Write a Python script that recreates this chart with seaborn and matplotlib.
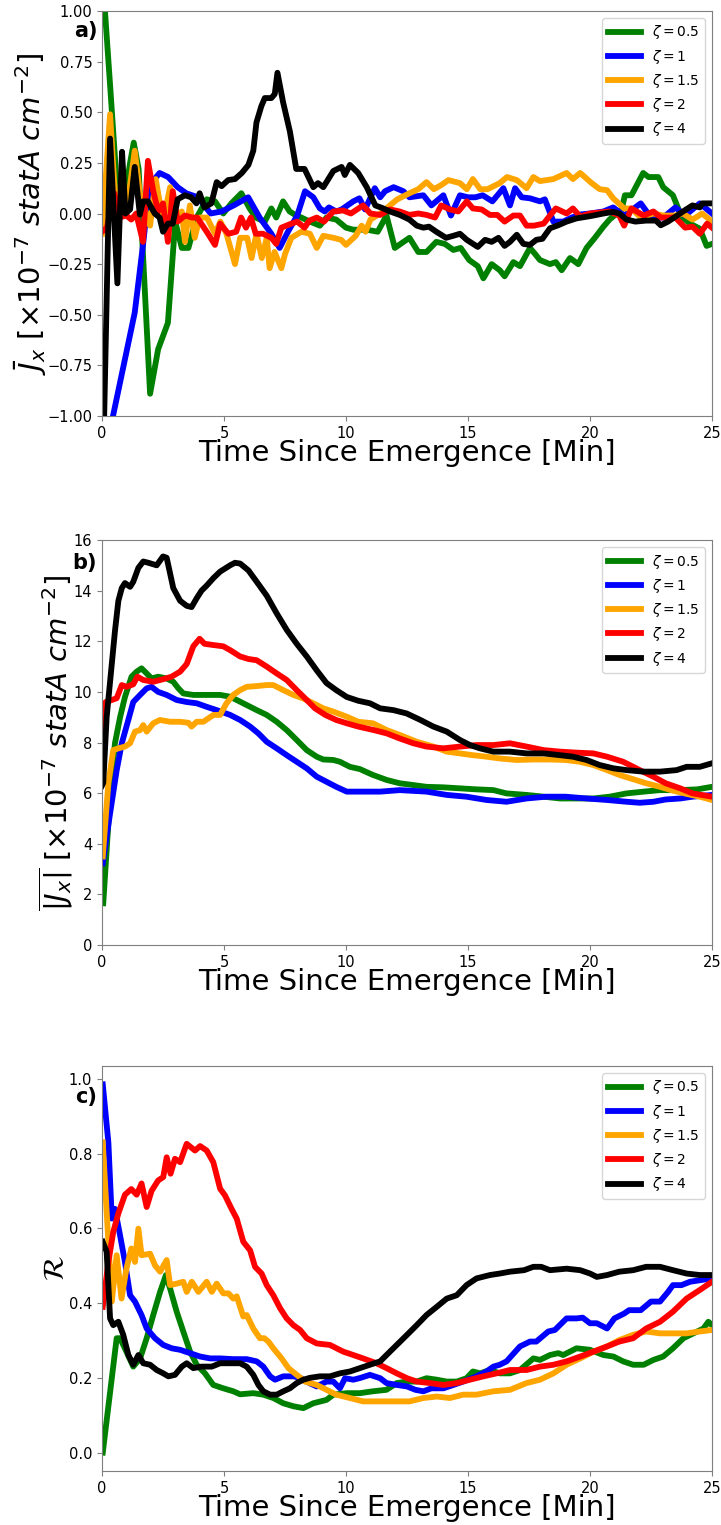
import matplotlib
matplotlib.use("Agg")
import matplotlib.pyplot as plt
import seaborn as sns
import numpy as np

# ---------------- Panel a : mean J_x ----------------
a_t_z05 = [0.0, 0.12, 0.35, 0.6, 0.9, 1.15, 1.3, 1.5, 1.97, 2.3, 2.7, 3.0, 3.27, 3.54, 3.88, 4.29, 4.63, 4.97, 5.3, 5.71, 6.05, 6.3, 6.67, 6.94, 7.14, 7.42, 7.69, 7.96, 8.17, 8.52, 8.93, 9.2, 9.6, 10.0, 10.3, 10.85, 11.3, 11.66, 12.0, 12.6, 12.96, 13.3, 13.7, 14.05, 14.4, 14.7, 15.05, 15.4, 15.63, 15.97, 16.3, 16.5, 16.86, 17.13, 17.54, 17.75, 17.95, 18.36, 18.6, 18.84, 19.18, 19.52, 19.86, 20.2, 20.55, 20.8, 21.3, 21.43, 21.7, 22.18, 22.4, 22.8, 23.0, 23.4, 23.75, 24.1, 24.5, 24.78, 25.0]
a_v_z05 = [1.4, 1.0, 0.6, 0.15, 0.05, 0.25, 0.35, 0.22, -0.89, -0.67, -0.54, -0.04, -0.17, -0.17, -0.02, 0.07, 0.06, 0.0, 0.05, 0.10, 0.025, -0.02, -0.04, 0.025, -0.02, 0.06, 0.01, -0.01, -0.02, -0.04, -0.06, -0.02, -0.03, -0.07, -0.08, -0.08, -0.09, -0.01, -0.17, -0.12, -0.19, -0.19, -0.14, -0.15, -0.18, -0.17, -0.23, -0.26, -0.32, -0.25, -0.28, -0.31, -0.24, -0.26, -0.17, -0.20, -0.23, -0.25, -0.24, -0.28, -0.22, -0.25, -0.17, -0.12, -0.065, -0.03, 0.02, 0.09, 0.09, 0.20, 0.18, 0.18, 0.13, 0.09, -0.015, -0.05, -0.075, -0.16, -0.15]

a_t_z1 = [0.0, 0.45, 1.34, 1.68, 1.95, 2.36, 2.71, 3.1, 3.45, 3.93, 4.45, 4.9, 5.4, 5.99, 6.46, 6.94, 7.28, 7.62, 8.0, 8.32, 8.66, 8.93, 9.13, 9.3, 9.6, 9.82, 10.3, 10.55, 10.78, 11.18, 11.4, 11.6, 11.95, 12.35, 12.6, 13.17, 13.5, 13.99, 14.3, 14.67, 15.0, 15.3, 15.6, 16.0, 16.45, 16.72, 16.93, 17.2, 17.54, 17.95, 18.15, 18.5, 18.9, 19.25, 19.6, 20.0, 20.55, 20.95, 21.4, 22.08, 22.5, 23.0, 23.5, 23.9, 24.5, 25.0]
a_v_z1 = [-1.3, -1.0, -0.49, -0.155, 0.14, 0.20, 0.18, 0.13, 0.10, 0.08, 0.0, 0.01, 0.04, 0.08, -0.02, -0.10, -0.17, -0.09, -0.01, 0.11, 0.08, 0.025, 0.01, 0.03, 0.01, 0.02, 0.06, 0.075, 0.02, 0.125, 0.08, 0.11, 0.13, 0.11, 0.08, 0.09, 0.04, 0.09, -0.01, 0.09, 0.08, 0.08, 0.09, 0.06, 0.125, 0.04, 0.125, 0.08, 0.075, 0.06, 0.07, -0.04, -0.04, -0.02, -0.005, 0.0, 0.01, 0.03, -0.01, 0.05, -0.02, -0.02, 0.03, -0.01, 0.05, 0.0]

a_t_z15 = [0.0, 0.33, 0.5, 0.65, 0.85, 1.05, 1.34, 1.55, 1.97, 2.2, 2.5, 2.79, 3.0, 3.27, 3.4, 3.6, 3.8, 4.0, 4.3, 4.63, 4.85, 5.1, 5.45, 5.66, 5.95, 6.13, 6.33, 6.55, 6.75, 6.87, 7.07, 7.35, 7.5, 7.76, 8.17, 8.52, 8.8, 9.07, 9.48, 9.8, 10.0, 10.4, 10.64, 10.8, 11.0, 11.4, 11.8, 12.1, 12.6, 12.96, 13.3, 13.6, 13.9, 14.2, 14.67, 14.95, 15.2, 15.5, 15.8, 16.3, 16.6, 17.0, 17.4, 17.68, 17.95, 18.5, 19.04, 19.3, 19.6, 20.07, 20.4, 20.7, 20.95, 21.4, 21.7, 22.08, 22.6, 23.0, 23.5, 23.8, 24.2, 24.6, 25.0]
a_v_z15 = [-0.1, 0.49, 0.15, 0.0, 0.1, 0.05, 0.31, 0.1, -0.06, 0.17, -0.04, 0.13, -0.02, 0.01, -0.14, 0.04, -0.12, -0.02, -0.02, -0.10, -0.04, -0.10, -0.25, -0.12, -0.12, -0.22, -0.10, -0.22, -0.12, -0.27, -0.19, -0.27, -0.20, -0.12, -0.09, -0.10, -0.17, -0.11, -0.12, -0.13, -0.155, -0.11, -0.06, -0.09, -0.03, 0.0, 0.04, 0.07, 0.10, 0.12, 0.155, 0.12, 0.14, 0.165, 0.15, 0.12, 0.17, 0.12, 0.12, 0.15, 0.18, 0.165, 0.125, 0.18, 0.16, 0.17, 0.20, 0.17, 0.20, 0.15, 0.12, 0.115, 0.075, 0.025, 0.025, -0.02, 0.0, -0.01, -0.01, 0.0, -0.03, 0.0, -0.04]

a_t_z2 = [0.0, 0.2, 0.5, 0.7, 1.0, 1.2, 1.4, 1.68, 1.88, 2.1, 2.3, 2.5, 2.7, 2.9, 3.1, 3.4, 3.7, 3.9, 4.29, 4.63, 4.84, 5.18, 5.5, 5.7, 5.9, 6.1, 6.3, 6.6, 6.94, 7.14, 7.35, 7.76, 8.0, 8.3, 8.5, 8.8, 9.1, 9.48, 9.88, 10.2, 10.7, 11.0, 11.4, 11.8, 12.2, 12.6, 12.96, 13.3, 13.65, 13.9, 14.26, 14.6, 14.95, 15.2, 15.56, 15.9, 16.2, 16.5, 16.86, 17.13, 17.4, 17.7, 18.1, 18.36, 18.6, 19.04, 19.3, 19.6, 20.0, 20.4, 20.8, 21.2, 21.4, 21.7, 22.2, 22.6, 22.9, 23.2, 23.5, 23.9, 24.2, 24.5, 24.8, 25.0]
a_v_z2 = [-0.09, -0.07, 0.1, -0.02, -0.01, -0.03, 0.0, -0.14, 0.26, 0.11, 0.01, 0.05, -0.14, 0.11, -0.04, -0.01, -0.02, -0.02, -0.09, -0.155, -0.05, -0.10, -0.09, -0.02, -0.07, -0.02, -0.10, -0.10, -0.12, -0.15, -0.07, -0.05, -0.04, -0.07, -0.035, -0.02, -0.04, 0.01, 0.015, 0.0, 0.04, 0.0, -0.007, 0.02, 0.01, -0.007, 0.0, -0.007, -0.02, 0.04, 0.02, 0.01, 0.06, 0.025, 0.02, -0.007, -0.007, -0.04, -0.01, -0.01, -0.06, -0.06, -0.05, -0.01, 0.025, 0.0, 0.025, -0.015, 0.0, 0.005, 0.01, -0.01, -0.06, 0.025, -0.01, 0.01, -0.02, -0.02, -0.02, -0.07, -0.065, -0.10, -0.05, -0.07]

a_t_z4 = [0.0, 0.33, 0.63, 0.82, 0.96, 1.15, 1.34, 1.55, 1.68, 1.88, 2.16, 2.36, 2.5, 2.7, 2.9, 3.1, 3.4, 3.65, 3.87, 4.0, 4.2, 4.48, 4.7, 4.9, 5.17, 5.45, 5.73, 6.0, 6.2, 6.33, 6.53, 6.67, 6.94, 7.08, 7.19, 7.42, 7.7, 7.96, 8.3, 8.66, 8.85, 9.07, 9.48, 9.82, 9.95, 10.16, 10.5, 10.85, 11.2, 11.53, 11.8, 12.2, 12.6, 12.9, 13.17, 13.4, 13.7, 14.1, 14.4, 14.67, 14.95, 15.4, 15.7, 15.97, 16.25, 16.5, 16.72, 17.0, 17.27, 17.54, 17.8, 18.05, 18.36, 18.7, 19.04, 19.45, 19.86, 20.14, 20.55, 20.95, 21.2, 21.5, 21.86, 22.3, 22.7, 22.9, 23.2, 23.5, 23.9, 24.2, 24.5, 24.6, 25.0]
a_v_z4 = [-1.5, 0.37, -0.345, 0.305, 0.0, 0.02, 0.23, -0.005, 0.06, 0.06, 0.0, -0.02, -0.09, -0.05, -0.05, 0.07, 0.09, 0.08, 0.05, 0.10, 0.03, 0.05, 0.155, 0.135, 0.165, 0.17, 0.20, 0.24, 0.31, 0.45, 0.53, 0.57, 0.57, 0.59, 0.695, 0.55, 0.405, 0.22, 0.22, 0.13, 0.15, 0.13, 0.21, 0.23, 0.19, 0.24, 0.20, 0.13, 0.04, 0.025, 0.01, -0.007, -0.03, -0.06, -0.07, -0.065, -0.09, -0.12, -0.11, -0.10, -0.13, -0.165, -0.13, -0.14, -0.12, -0.16, -0.14, -0.105, -0.15, -0.155, -0.13, -0.125, -0.073, -0.058, -0.04, -0.024, -0.016, -0.01, 0.0, 0.008, 0.0, -0.03, -0.04, -0.035, -0.035, -0.058, -0.04, -0.016, 0.017, 0.04, 0.03, 0.05, 0.05]

# ---------------- Panel b : mean |J_x| ----------------
b_t_z05 = [0.05, 0.33, 0.53, 0.74, 0.94, 1.21, 1.42, 1.62, 1.83, 2.03, 2.3, 2.65, 2.92, 3.13, 3.33, 3.74, 4.29, 4.84, 5.25, 5.52, 5.93, 6.34, 6.75, 7.16, 7.57, 7.98, 8.39, 8.8, 9.07, 9.48, 9.75, 10.16, 10.57, 11.1, 11.67, 12.2, 12.76, 13.3, 13.99, 14.67, 15.35, 16.04, 16.58, 17.4, 18.1, 18.77, 19.3, 20.14, 20.8, 21.5, 22.2, 22.87, 23.7, 24.4, 25.0]
b_v_z05 = [1.65, 5.86, 7.97, 9.0, 9.8, 10.6, 10.8, 10.93, 10.73, 10.53, 10.6, 10.53, 10.4, 10.14, 9.94, 9.88, 9.88, 9.88, 9.81, 9.68, 9.48, 9.28, 9.09, 8.82, 8.49, 8.1, 7.7, 7.44, 7.33, 7.31, 7.24, 7.04, 6.95, 6.72, 6.52, 6.39, 6.32, 6.25, 6.23, 6.19, 6.15, 6.12, 5.99, 5.93, 5.86, 5.79, 5.79, 5.79, 5.86, 5.99, 6.06, 6.12, 6.12, 6.15, 6.25]

b_t_z1 = [0.03, 0.33, 0.6, 0.81, 1.08, 1.28, 1.56, 1.83, 2.03, 2.3, 2.65, 3.06, 3.47, 3.88, 4.29, 4.7, 5.25, 5.66, 6.07, 6.41, 6.75, 7.16, 7.57, 7.98, 8.39, 8.8, 9.2, 9.6, 10.03, 10.5, 11.4, 12.2, 13.3, 14.13, 14.94, 15.76, 16.58, 17.4, 18.2, 19.0, 19.86, 20.7, 21.5, 22.04, 22.6, 23.1, 23.7, 24.2, 25.0]
b_v_z1 = [3.23, 5.2, 6.9, 7.97, 8.9, 9.6, 9.88, 10.14, 10.2, 10.0, 9.88, 9.68, 9.6, 9.55, 9.41, 9.28, 9.09, 8.89, 8.63, 8.36, 8.03, 7.77, 7.5, 7.24, 6.98, 6.65, 6.45, 6.25, 6.06, 6.06, 6.06, 6.12, 6.06, 5.93, 5.86, 5.73, 5.66, 5.79, 5.86, 5.86, 5.79, 5.73, 5.66, 5.62, 5.66, 5.75, 5.79, 5.86, 5.93]

b_t_z15 = [0.03, 0.26, 0.46, 0.67, 0.94, 1.15, 1.35, 1.56, 1.69, 1.83, 2.1, 2.37, 2.79, 3.2, 3.54, 3.67, 3.88, 4.15, 4.57, 4.84, 5.1, 5.38, 5.66, 5.93, 6.34, 6.75, 7.02, 7.43, 7.84, 8.25, 8.66, 9.07, 9.48, 10.03, 10.5, 11.1, 11.67, 12.2, 12.9, 13.58, 14.13, 14.67, 15.2, 15.76, 16.3, 16.99, 17.67, 18.36, 19.0, 19.58, 20.14, 20.7, 21.2, 21.77, 22.3, 22.87, 23.4, 23.96, 24.5, 25.0]
b_v_z15 = [3.5, 6.4, 7.7, 7.77, 7.84, 7.97, 8.43, 8.49, 8.69, 8.43, 8.76, 8.89, 8.82, 8.82, 8.78, 8.63, 8.82, 8.82, 9.09, 9.09, 9.55, 9.88, 10.07, 10.2, 10.23, 10.27, 10.27, 10.07, 9.88, 9.74, 9.55, 9.35, 9.22, 9.02, 8.82, 8.76, 8.49, 8.3, 8.03, 7.84, 7.64, 7.57, 7.5, 7.44, 7.37, 7.31, 7.33, 7.33, 7.31, 7.24, 7.11, 6.91, 6.72, 6.55, 6.39, 6.25, 6.1, 5.97, 5.86, 5.73]

b_t_z2 = [0.0, 0.15, 0.4, 0.6, 0.81, 1.0, 1.28, 1.45, 1.69, 2.1, 2.5, 2.85, 3.2, 3.47, 3.74, 4.0, 4.2, 4.57, 4.97, 5.25, 5.66, 6.0, 6.34, 6.75, 7.16, 7.57, 7.98, 8.39, 8.73, 9.15, 9.6, 10.03, 10.5, 11.1, 11.67, 12.2, 12.76, 13.3, 13.99, 14.67, 15.35, 16.04, 16.72, 17.4, 18.1, 18.77, 19.45, 20.14, 20.7, 21.36, 22.04, 22.6, 23.1, 23.7, 24.2, 25.0]
b_v_z2 = [8.5, 9.6, 9.68, 9.75, 10.27, 10.2, 10.3, 10.6, 10.47, 10.4, 10.5, 10.6, 10.8, 11.1, 11.8, 12.1, 11.9, 11.85, 11.8, 11.65, 11.4, 11.3, 11.25, 11.0, 10.73, 10.47, 10.07, 9.68, 9.35, 9.09, 8.89, 8.76, 8.63, 8.5, 8.36, 8.16, 7.97, 7.84, 7.77, 7.84, 7.9, 7.9, 7.97, 7.84, 7.7, 7.64, 7.6, 7.57, 7.44, 7.24, 6.91, 6.65, 6.39, 6.19, 5.99, 5.86]

b_t_z4 = [0.0, 0.05, 0.19, 0.53, 0.67, 0.81, 0.94, 1.15, 1.28, 1.49, 1.69, 1.9, 2.24, 2.5, 2.65, 2.92, 3.2, 3.47, 3.67, 3.88, 4.08, 4.29, 4.57, 4.84, 5.25, 5.45, 5.66, 6.0, 6.34, 6.75, 7.16, 7.57, 7.98, 8.39, 8.8, 9.2, 9.6, 10.03, 10.5, 10.98, 11.4, 11.94, 12.48, 13.03, 13.58, 14.13, 14.67, 15.08, 15.49, 16.04, 16.72, 17.4, 18.1, 18.77, 19.3, 19.86, 20.4, 20.96, 21.5, 22.2, 22.87, 23.55, 23.96, 24.5, 25.0]
b_v_z4 = [6.3, 6.4, 9.0, 12.4, 13.6, 14.1, 14.3, 14.15, 14.35, 14.9, 15.15, 15.1, 15.0, 15.35, 15.3, 14.1, 13.6, 13.4, 13.35, 13.7, 14.0, 14.2, 14.5, 14.75, 15.0, 15.1, 15.07, 14.8, 14.35, 13.8, 13.1, 12.45, 11.9, 11.4, 10.85, 10.35, 10.07, 9.8, 9.65, 9.55, 9.35, 9.28, 9.15, 8.9, 8.63, 8.43, 8.1, 7.9, 7.77, 7.64, 7.64, 7.57, 7.57, 7.5, 7.44, 7.31, 7.11, 6.98, 6.91, 6.85, 6.85, 6.91, 7.04, 7.04, 7.18]

# ---------------- Panel c : R ----------------
c_t_z05 = [0.03, 0.6, 0.74, 1.0, 1.28, 1.56, 1.83, 2.1, 2.38, 2.62, 2.79, 3.06, 3.33, 3.61, 3.88, 4.22, 4.56, 4.97, 5.38, 5.66, 6.2, 6.61, 7.02, 7.43, 7.84, 8.25, 8.66, 9.2, 9.48, 10.03, 10.57, 11.1, 11.66, 12.08, 12.5, 12.9, 13.3, 13.72, 14.13, 14.54, 14.94, 15.2, 15.5, 15.9, 16.3, 16.72, 17.13, 17.68, 17.95, 18.36, 18.7, 18.9, 19.45, 20.0, 20.55, 20.96, 21.36, 21.77, 22.2, 22.6, 23.0, 23.4, 23.83, 24.24, 24.65, 24.85, 25.0]
c_v_z05 = [0.0, 0.306, 0.306, 0.27, 0.23, 0.252, 0.306, 0.368, 0.43, 0.475, 0.439, 0.377, 0.324, 0.27, 0.235, 0.212, 0.181, 0.172, 0.164, 0.156, 0.159, 0.155, 0.146, 0.132, 0.124, 0.119, 0.132, 0.141, 0.155, 0.159, 0.159, 0.164, 0.168, 0.186, 0.19, 0.19, 0.199, 0.195, 0.19, 0.19, 0.199, 0.217, 0.212, 0.221, 0.212, 0.212, 0.221, 0.252, 0.248, 0.261, 0.266, 0.261, 0.279, 0.275, 0.261, 0.257, 0.244, 0.235, 0.235, 0.248, 0.257, 0.279, 0.306, 0.319, 0.332, 0.35, 0.341]

c_t_z1 = [0.03, 0.26, 0.4, 0.53, 0.74, 0.94, 1.15, 1.35, 1.62, 1.83, 2.17, 2.51, 2.86, 3.2, 3.61, 4.02, 4.43, 4.84, 5.38, 5.93, 6.34, 6.61, 6.89, 7.09, 7.43, 7.84, 8.12, 8.53, 8.8, 9.2, 9.48, 9.75, 9.96, 10.3, 10.6, 10.98, 11.4, 11.66, 12.08, 12.5, 12.84, 13.17, 13.5, 13.99, 14.4, 14.8, 15.35, 15.76, 16.04, 16.3, 16.58, 17.13, 17.54, 17.8, 18.29, 18.56, 19.04, 19.45, 19.7, 20.0, 20.28, 20.7, 21.0, 21.4, 21.6, 22.08, 22.5, 22.87, 23.2, 23.4, 23.75, 24.1, 24.5, 25.0]
c_v_z1 = [0.985, 0.83, 0.626, 0.652, 0.581, 0.51, 0.421, 0.404, 0.368, 0.332, 0.306, 0.288, 0.279, 0.275, 0.266, 0.257, 0.252, 0.252, 0.25, 0.25, 0.244, 0.23, 0.204, 0.195, 0.204, 0.204, 0.2, 0.185, 0.177, 0.19, 0.19, 0.172, 0.199, 0.195, 0.2, 0.208, 0.199, 0.186, 0.181, 0.177, 0.168, 0.164, 0.172, 0.172, 0.181, 0.19, 0.204, 0.217, 0.23, 0.235, 0.244, 0.284, 0.297, 0.297, 0.324, 0.328, 0.359, 0.359, 0.361, 0.346, 0.346, 0.332, 0.359, 0.372, 0.381, 0.381, 0.404, 0.404, 0.43, 0.448, 0.448, 0.457, 0.461, 0.466]

c_t_z15 = [0.03, 0.19, 0.4, 0.6, 0.8, 1.0, 1.2, 1.35, 1.49, 1.62, 1.97, 2.17, 2.38, 2.65, 2.79, 3.06, 3.33, 3.47, 3.68, 3.95, 4.29, 4.5, 4.7, 4.97, 5.18, 5.38, 5.52, 5.79, 5.93, 6.2, 6.47, 6.65, 6.82, 7.02, 7.36, 7.64, 7.98, 8.32, 8.53, 8.8, 9.2, 9.6, 10.16, 10.7, 11.4, 12.08, 12.6, 13.17, 13.72, 14.26, 14.8, 15.35, 16.04, 16.72, 17.4, 17.95, 18.5, 19.04, 19.6, 20.14, 20.7, 21.2, 21.77, 22.3, 22.87, 23.4, 23.96, 24.5, 25.0]
c_v_z15 = [0.83, 0.644, 0.404, 0.528, 0.412, 0.492, 0.546, 0.51, 0.599, 0.528, 0.532, 0.501, 0.484, 0.515, 0.448, 0.452, 0.457, 0.43, 0.457, 0.43, 0.457, 0.43, 0.452, 0.426, 0.426, 0.412, 0.418, 0.364, 0.368, 0.332, 0.306, 0.306, 0.297, 0.279, 0.252, 0.226, 0.208, 0.19, 0.186, 0.181, 0.168, 0.155, 0.146, 0.137, 0.137, 0.137, 0.137, 0.146, 0.15, 0.146, 0.155, 0.155, 0.164, 0.168, 0.186, 0.195, 0.212, 0.235, 0.252, 0.27, 0.284, 0.301, 0.315, 0.324, 0.319, 0.319, 0.319, 0.324, 0.328]

c_t_z2 = [0.03, 0.26, 0.46, 0.67, 0.94, 1.2, 1.42, 1.62, 1.83, 2.03, 2.3, 2.51, 2.65, 2.81, 2.99, 3.2, 3.47, 3.81, 4.02, 4.29, 4.56, 4.84, 5.04, 5.31, 5.52, 5.79, 6.07, 6.27, 6.54, 6.75, 7.02, 7.3, 7.57, 7.84, 8.12, 8.39, 8.8, 9.34, 9.89, 10.3, 10.7, 11.25, 11.66, 12.08, 12.5, 12.9, 13.44, 13.99, 14.54, 15.08, 15.63, 16.17, 16.72, 17.4, 17.95, 18.5, 19.04, 19.6, 20.14, 20.7, 21.2, 21.77, 22.3, 22.87, 23.4, 23.96, 24.5, 25.0]
c_v_z2 = [0.39, 0.51, 0.59, 0.64, 0.69, 0.705, 0.69, 0.72, 0.657, 0.70, 0.728, 0.737, 0.79, 0.746, 0.786, 0.777, 0.826, 0.808, 0.82, 0.808, 0.777, 0.706, 0.688, 0.652, 0.626, 0.564, 0.541, 0.497, 0.479, 0.448, 0.421, 0.386, 0.359, 0.341, 0.328, 0.306, 0.292, 0.288, 0.27, 0.261, 0.252, 0.239, 0.226, 0.212, 0.199, 0.19, 0.186, 0.181, 0.186, 0.195, 0.204, 0.212, 0.221, 0.221, 0.23, 0.235, 0.244, 0.257, 0.27, 0.284, 0.297, 0.306, 0.332, 0.35, 0.377, 0.412, 0.435, 0.457]

c_t_z4 = [0.03, 0.19, 0.33, 0.46, 0.67, 0.87, 1.08, 1.28, 1.49, 1.69, 1.97, 2.24, 2.51, 2.72, 2.99, 3.27, 3.47, 3.74, 4.08, 4.5, 4.84, 5.25, 5.66, 5.93, 6.2, 6.41, 6.61, 6.89, 7.16, 7.43, 7.7, 7.98, 8.25, 8.52, 8.93, 9.34, 9.75, 10.16, 10.57, 10.98, 11.4, 11.66, 12.08, 12.5, 12.9, 13.3, 13.72, 14.13, 14.54, 14.94, 15.35, 15.9, 16.3, 16.72, 17.3, 17.68, 18.0, 18.36, 19.04, 19.6, 20.0, 20.28, 20.7, 21.2, 21.77, 22.3, 22.87, 23.4, 23.96, 24.5, 25.0]
c_v_z4 = [0.564, 0.537, 0.359, 0.341, 0.35, 0.315, 0.261, 0.235, 0.261, 0.239, 0.235, 0.221, 0.212, 0.204, 0.208, 0.23, 0.239, 0.226, 0.23, 0.23, 0.239, 0.239, 0.239, 0.23, 0.208, 0.181, 0.164, 0.155, 0.155, 0.164, 0.172, 0.186, 0.195, 0.2, 0.204, 0.204, 0.212, 0.217, 0.226, 0.235, 0.244, 0.261, 0.288, 0.315, 0.341, 0.368, 0.39, 0.412, 0.421, 0.448, 0.466, 0.475, 0.479, 0.484, 0.488, 0.497, 0.497, 0.488, 0.492, 0.488, 0.479, 0.47, 0.475, 0.484, 0.488, 0.497, 0.497, 0.488, 0.479, 0.475, 0.475]

labels = [r"$\zeta = 0.5$", r"$\zeta = 1$", r"$\zeta = 1.5$", r"$\zeta = 2$", r"$\zeta = 4$"]
colors = ["green", "blue", "orange", "red", "black"]

panels = [
    ([(a_t_z05, a_v_z05), (a_t_z1, a_v_z1), (a_t_z15, a_v_z15), (a_t_z2, a_v_z2), (a_t_z4, a_v_z4)],
     r"$\bar{J}_x\ [\times 10^{-7}\ statA\ cm^{-2}]$", "a)", 0.950),
    ([(b_t_z05, b_v_z05), (b_t_z1, b_v_z1), (b_t_z15, b_v_z15), (b_t_z2, b_v_z2), (b_t_z4, b_v_z4)],
     r"$\overline{|J_x|}\ [\times 10^{-7}\ statA\ cm^{-2}]$", "b)", 0.942),
    ([(c_t_z05, c_v_z05), (c_t_z1, c_v_z1), (c_t_z15, c_v_z15), (c_t_z2, c_v_z2), (c_t_z4, c_v_z4)],
     r"$\mathcal{R}$", "c)", 0.923),
]

plt.rcParams.update(matplotlib.rcParamsDefault)
plt.rcParams["font.family"] = ["DejaVu Sans"]
plt.rcParams["axes.edgecolor"] = "#7f7f7f"
plt.rcParams["xtick.color"] = "#7f7f7f"
plt.rcParams["ytick.color"] = "#7f7f7f"
plt.rcParams["xtick.labelcolor"] = "black"
plt.rcParams["ytick.labelcolor"] = "black"

fig = plt.figure(figsize=(7.21, 15.25), dpi=100)
bottoms = [0.7272, 0.3803, 0.0354]

for (series, ylab, tag, tagy), bot in zip(panels, bottoms):
    ax = fig.add_axes([0.1415, bot, 0.846, 0.2656])
    for (t, v), lab, col in zip(series, labels, colors):
        sns.lineplot(x=np.array(t), y=np.array(v), ax=ax, color=col, lw=4.2, label=lab)
    ax.set_xlim(0, 25)
    if tag == "a)":
        ax.set_ylim(-1, 1)
        ax.set_yticks(np.arange(-1, 1.01, 0.25))
    elif tag == "b)":
        ax.set_ylim(0, 16)
        ax.set_yticks(np.arange(0, 17, 2))
    else:
        ax.set_yticks(np.arange(0, 1.01, 0.2))
    ax.set_xticks([0, 5, 10, 15, 20, 25])
    ax.tick_params(labelsize=10.5)
    ax.set_xlabel("Time Since Emergence [Min]", fontsize=21, labelpad=-1.5)
    ax.set_ylabel(ylab, fontsize=21, labelpad=-1)
    ax.text(-0.008, tagy, tag, transform=ax.transAxes, ha="right", va="center",
            fontsize=15, fontweight="bold", color="black")
    leg = ax.legend(loc="upper right", fontsize=10, handlelength=2.4, labelspacing=0.45)
    for h in leg.get_lines():
        h.set_linewidth(4.2)

fig.savefig("out.png", dpi=100)
